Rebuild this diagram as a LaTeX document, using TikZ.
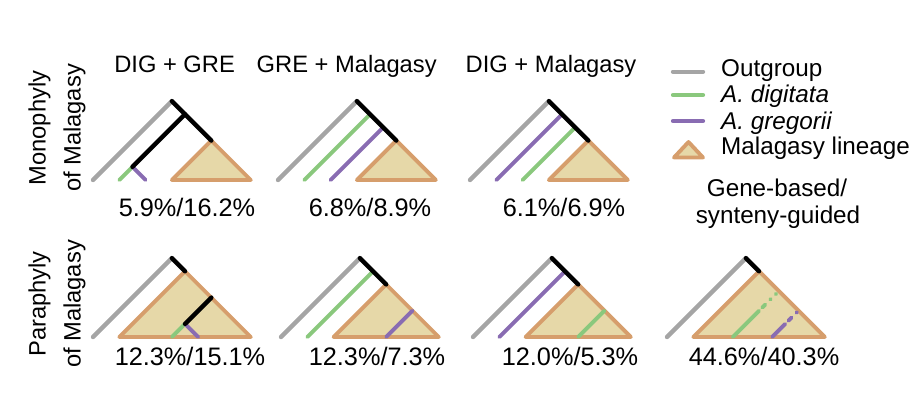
\documentclass[tikz,border=0pt]{standalone}
\usepackage{fontspec}
\setmainfont{Liberation Sans}
\definecolor{outgray}{RGB}{165,165,165}
\definecolor{digigreen}{RGB}{138,200,125}
\definecolor{gregpurple}{RGB}{137,108,178}
\definecolor{malaedge}{RGB}{214,158,108}
\definecolor{malafill}{RGB}{230,216,168}

\begin{document}
\begin{tikzpicture}[x=0.02cm, y=-0.02cm,
    panel/.style={shift={#1}, x=0.526cm, y=0.526cm},
    outline/.style={outgray, line width=2.5pt, line cap=round},
    stem/.style={black, line width=2.5pt, line cap=round},
    digi/.style={digigreen, line width=2.2pt, line cap=round},
    greg/.style={gregpurple, line width=2.2pt, line cap=round},
    clade/.style={draw=malaedge, fill=malafill, line width=2.2pt, line join=round},
    guess/.style={dash pattern=on 2.5pt off 4pt on 0.3pt off 4pt},
    head/.style={font=\fontsize{13.5}{16}\selectfont, anchor=base},
    pct/.style={font=\fontsize{14.4}{16}\selectfont, anchor=base},
    leg/.style={font=\fontsize{13.8}{16}\selectfont, anchor=base west}]
    \useasboundingbox (0,0) rectangle (911,397);

    % trees: Malagasy clade and outgroup
    \foreach \px/\py/\a in {93/180/3, 278/180/3, 470/180/3, 93/337/1, 281/337/2, 473/337/2, 667/337/1}{
        \begin{scope}[panel={(\px,\py)}]
            \filldraw[clade] (\a,0) -- ({(\a+6)/2},{(6-\a)/2}) -- (6,0) -- cycle;
            \draw[outline] (0,0) -- (3,3);
        \end{scope}
    }
    % monophyly
    \begin{scope}[panel={(93,180)}]
        \draw[digi] (1.5,0.5) -- (1,0);
        \draw[greg] (1.5,0.5) -- (2,0);
        \draw[stem] (3.5,2.5) -- (1.5,0.5);
    \end{scope}
    \begin{scope}[panel={(278,180)}]
        \draw[digi] (1,0) -- (3.5,2.5);
        \draw[greg] (2,0) -- (4,2);
    \end{scope}
    \begin{scope}[panel={(470,180)}]
        \draw[greg] (1,0) -- (3.5,2.5);
        \draw[digi] (2,0) -- (4,2);
    \end{scope}
    % paraphyly
    \begin{scope}[panel={(93,337)}]
        \draw[digi] (3.5,0.5) -- (3,0);
        \draw[greg] (3.5,0.5) -- (4,0);
        \draw[stem] (4.5,1.5) -- (3.5,0.5);
    \end{scope}
    \begin{scope}[panel={(281,337)}]
        \draw[digi] (1,0) -- (3.5,2.5);
        \draw[greg] (4,0) -- (5,1);
    \end{scope}
    \begin{scope}[panel={(473,337)}]
        \draw[greg] (1,0) -- (3.5,2.5);
        \draw[digi] (4,0) -- (5,1);
    \end{scope}
    \begin{scope}[panel={(667,337)}]
        \draw[digi] (2.5,0) -- (3.5,1);
        \draw[digi, guess] (3.62,1.12) -- (4.15,1.65);
        \draw[greg] (4,0) -- (4.5,0.5);
        \draw[greg, guess] (4.62,0.62) -- (4.95,0.95);
    \end{scope}
    % black stems down to the clade
    \foreach \px/\py/\a in {93/180/3, 278/180/3, 470/180/3, 93/337/1, 281/337/2, 473/337/2, 667/337/1}{
        \draw[stem, panel={(\px,\py)}] (3,3) -- ({(\a+6)/2},{(6-\a)/2});
    }

    \node[head] (hd-dg) at (174.6,72.3) {DIG + GRE};
    \node[head] (hd-gm) at (346.7,72.3) {GRE + Malagasy};
    \node[head] (hd-dm) at (551,72.3) {DIG + Malagasy};

    \node[rotate=90, align=center, font=\fontsize{13.5}{19.8}\selectfont] (row-mono) at (57,128) {Monophyly\\of Malagasy};
    \node[rotate=90, align=center, font=\fontsize{13.5}{19.8}\selectfont] (row-para) at (57,304) {Paraphyly\\of Malagasy};

    \node[pct] (pc-m1) at (187,216) {5.9\%/16.2\%};
    \node[pct] (pc-m2) at (370,216) {6.8\%/8.9\%};
    \node[pct] (pc-m3) at (564,216) {6.1\%/6.9\%};
    \node[pct] (pc-p1) at (190,365) {12.3\%/15.1\%};
    \node[pct] (pc-p2) at (377,365) {12.3\%/7.3\%};
    \node[pct] (pc-p3) at (570,365) {12.0\%/5.3\%};
    \node[pct] (pc-p4) at (764,365) {44.6\%/40.3\%};

    % legend
    \draw[outline] (673,71.7) -- (703,71.7);
    \draw[digi, line width=2.4pt] (673,95) -- (703,95);
    \draw[greg, line width=2.4pt] (673,121) -- (703,121);
    \filldraw[clade] (674,157.5) -- (688.5,142) -- (703,157.5) -- cycle;
    \node[leg] (lg-out) at (715,76) {Outgroup};
    \node[leg] (lg-dig) at (715,102.7) {\textit{A. digitata}};
    \node[leg] (lg-gre) at (715,129.3) {\textit{A. gregorii}};
    \node[leg] (lg-mal) at (715,154) {Malagasy lineage};
    \node[leg, anchor=base] (lg-gene) at (777,196.7) {Gene-based/};
    \node[leg, anchor=base] (lg-synt) at (778,223) {synteny-guided};
\end{tikzpicture}
\end{document}
